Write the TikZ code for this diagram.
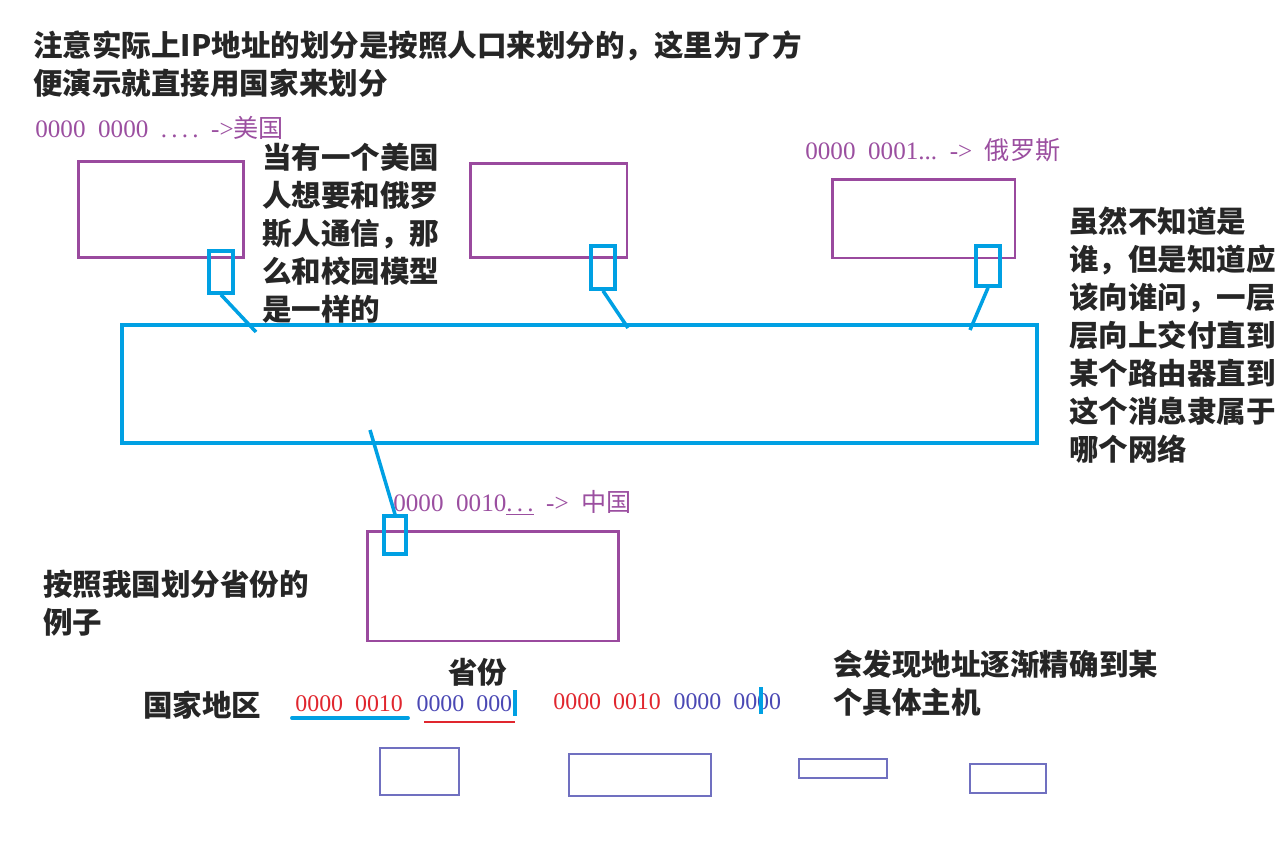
\documentclass[tikz,border=0pt]{standalone}
\usepackage{fontspec}
\setmainfont{Liberation Serif}
\newfontfamily\cjk{Noto Sans CJK SC}
\usetikzlibrary{positioning}

\definecolor{lblpurple}{HTML}{9B4FA0}
\definecolor{boxpurple}{HTML}{9A4A9E}
\definecolor{linkblue}{HTML}{00A0E3}
\definecolor{netred}{HTML}{E0262E}
\definecolor{hostblue}{HTML}{4A48B4}
\definecolor{thinblue}{HTML}{7070C0}

\tikzset{
  note/.style={anchor=north west, inner sep=0pt, align=left, text=black!85,
    font=\cjk\bfseries\fontsize{16.8}{21.6}\selectfont},
  addr/.style={anchor=west, inner sep=0pt, text=lblpurple,
    font=\fontsize{14.3}{16}\selectfont},
  bits/.style={anchor=west, inner sep=0pt, font=\fontsize{13.6}{15}\selectfont},
  country/.style={draw=boxpurple, line width=1.7pt, inner sep=0pt},
  gateway/.style={draw=linkblue, line width=2pt, inner sep=0pt},
  host/.style={draw=thinblue, line width=0.8pt, inner sep=0pt},
  link/.style={linkblue, line width=2pt},
}

\begin{document}
\begin{tikzpicture}[x=0.02cm, y=-0.02cm]
    \useasboundingbox (0,0) rectangle (1283,841);
    % --- notes ---
    \node[note] (topnote) at (33,30)
      {注意实际上IP地址的划分是按照人口来划分的，这里为了方\\便演示就直接用国家来划分};
    \node[note] (usnote) at (262,143)
      {当有一个美国\\人想要和俄罗\\斯人通信，那\\么和校园模型\\是一样的};
    \node[note] (runote) at (1069,207)
      {虽然不知道是\\谁，但是知道应\\该向谁问，一层\\层向上交付直到\\某个路由器直到\\这个消息隶属于\\哪个网络};
    \node[note] (cnnote) at (43,570) {按照我国划分省份的\\例子};
    \node[note] (findnote) at (833,650) {会发现地址逐渐精确到某\\个具体主机};
    % --- country networks ---
    \node[addr] (addrUS) at (35,128)
      {0000\enspace 0000\enspace .\,.\,.\,.\enspace ->{\cjk 美国}};
    \node[addr] (addrRU) at (805,150)
      {0000\enspace 0001...\enspace ->\enspace{\cjk 俄罗斯}};
    \node[addr] (addrCN) at (393,503)
      {0000\enspace 0010\underline{.\,.\,.}\enspace ->\enspace{\cjk 中国}};
    \node[country, minimum width=3.32cm, minimum height=1.94cm] (boxUS) at (161,209.5) {};
    \node[country, minimum width=3.14cm, minimum height=1.90cm] (boxMid) at (548.5,210.5) {};
    \node[country, minimum width=3.66cm, minimum height=1.58cm] (boxRU) at (923.5,218.5) {};
    \node[country, minimum width=5.04cm, minimum height=2.20cm] (boxCN) at (493,586) {};
    % --- backbone and routers ---
    \node[gateway, minimum width=18.3cm, minimum height=2.36cm] (backbone) at (579.5,384) {};
    \node[gateway, minimum width=0.48cm, minimum height=0.84cm] (sqUS) at (221,272) {};
    \node[gateway, minimum width=0.48cm, minimum height=0.86cm] (sqMid) at (603,267.5) {};
    \node[gateway, minimum width=0.48cm, minimum height=0.80cm] (sqRU) at (988,266) {};
    \node[gateway, minimum width=0.44cm, minimum height=0.76cm] (sqCN) at (395,535) {};
    \coordinate (inUS) at (256,332);
    \coordinate (inMid) at (628,328);
    \coordinate (inRU) at (970,330);
    \coordinate (outCN) at (370,430);
    \draw[link] (sqUS.south) -- (inUS);
    \draw[link] (sqMid.south) -- (inMid);
    \draw[link] (sqRU.south) -- (inRU);
    \draw[link] (outCN) -- (sqCN.north);
    % --- address split ---
    \node[note, anchor=west] (province) at (448,672) {省份};
    \node[note, anchor=west] (region) at (143,705) {国家地区};
    \node[bits, text=netred] (netA) at (295,704) {0000\enspace 0010};
    \node[bits, text=hostblue, right=0.26cm of netA] (hostA) {0000\enspace 000};
    \node[bits, text=netred] (netB) at (553,702) {0000\enspace 0010};
    \node[bits, text=hostblue, right=0.24cm of netB] (hostB) {0000\enspace 0000};
    \draw[linkblue, line width=2.2pt, line cap=round] (292,718) -- (408,718);
    \draw[netred, line width=1.6pt] (424,722) -- (515,722);
    \draw[linkblue, line width=1.8pt] (515,690) -- (515,716);
    \draw[linkblue, line width=1.8pt] (761,687) -- (761,714);
    % --- hosts ---
    \node[host, minimum width=1.58cm, minimum height=0.94cm] (hostbox1) at (419.5,771.5) {};
    \node[host, minimum width=2.84cm, minimum height=0.84cm] (hostbox2) at (640,775) {};
    \node[host, minimum width=1.76cm, minimum height=0.38cm] (hostbox3) at (843,768.5) {};
    \node[host, minimum width=1.52cm, minimum height=0.58cm] (hostbox4) at (1008,778.5) {};
\end{tikzpicture}
\end{document}
